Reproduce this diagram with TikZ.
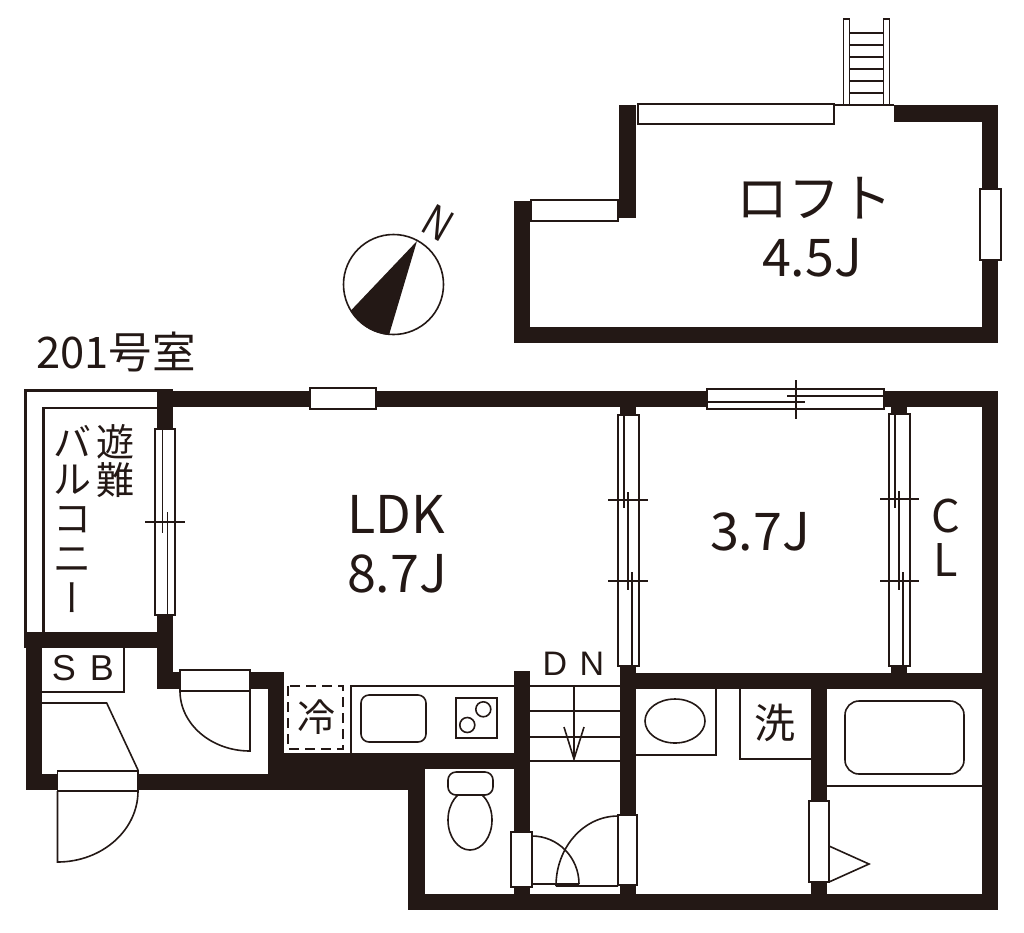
\documentclass[tikz,border=0pt]{standalone}
\usepackage{fontspec}
\setmainfont{Noto Sans CJK JP}
\newfontfamily\vertfont[RawFeature=+vert]{Noto Sans CJK JP}
\newfontfamily\latinfont{Liberation Sans}
\definecolor{wallcol}{HTML}{231815}
\tikzset{
  wall/.style={fill=wallcol},
  thin line/.style={draw=wallcol, line width=1.3pt},
  fitting/.style={draw=wallcol, line width=1.6pt},
  opening/.style={draw=wallcol, line width=1.6pt, fill=white},
  label/.style={inner sep=0pt, text=wallcol, font=\fontsize{52}{52}\selectfont},
  small label/.style={label, font=\fontsize{38}{38}\selectfont},
}
\begin{document}
\begin{tikzpicture}[x=1pt, y=-1pt, >=latex]
  \useasboundingbox (0,0) rectangle (1024,932);
  % loft walls
  \fill[wall] (514,201) rectangle (530,343);
  \fill[wall] (514,327) rectangle (998,343);
  \fill[wall] (982,105) rectangle (998,343);
  \fill[wall] (894,105) rectangle (998,122);
  \fill[wall] (619,105) rectangle (636,218);
  \draw[thin line] (834,105) -- (894,105);
  % loft windows
  \draw[opening] (638,104) rectangle (834,124);
  \draw[opening] (531,200) rectangle (618,221);
  \draw[opening] (980,189) rectangle (1001,260);
  % ladder
  \draw[opening] (843.5,19) rectangle (849.5,105);
  \draw[opening] (883.5,19) rectangle (889.5,105);
  \foreach \y in {33,45,57,69,81,93}
    \draw[thin line] (849.5,\y) -- (883.5,\y);
  \node[label] (loft) at (814,198) {ロフト};
  \node[label] (loftarea) at (812,258) {4.5J};
  % compass
  \draw[fitting] (393.5,284.5) circle (50);
  \fill[wall] (417,241) -- (389,335) arc (95:149:50) -- cycle;
  \node[inner sep=0pt, rotate=-30, text=wallcol, font=\latinfont\fontsize{46}{46}\selectfont, xscale=0.75] (north) at (438.5,223) {N};
  \node[small label, anchor=west, font=\fontsize{43.5}{44}\selectfont] (room) at (36,352) {201号室};
  % main walls
  \fill[wall] (157,391) rectangle (998,407);
  \fill[wall] (157,389) rectangle (173,429);
  \fill[wall] (157,615) rectangle (173,689);
  \fill[wall] (24,632) rectangle (173,648);
  \fill[wall] (26,632) rectangle (42,790);
  \fill[wall] (26,774) rectangle (284,790);
  \fill[wall] (157,672) rectangle (283,689);
  \fill[wall] (268,672) rectangle (284,790);
  \fill[wall] (268,753) rectangle (530,769);
  \fill[wall] (268,769) rectangle (408,790);
  \fill[wall] (408,753) rectangle (425,910);
  \fill[wall] (408,894) rectangle (998,910);
  \fill[wall] (514,671) rectangle (530,910);
  \fill[wall] (620,660) rectangle (636,910);
  \fill[wall] (620,673) rectangle (998,689);
  \fill[wall] (620,407) rectangle (636,420);
  \fill[wall] (891,407) rectangle (907,420);
  \fill[wall] (891,660) rectangle (907,680);
  \fill[wall] (811,689) rectangle (827,910);
  \fill[wall] (982,391) rectangle (998,910);
  % balcony
  \draw[wallcol, line width=2.5pt] (25.5,632) -- (25.5,390.5) -- (157,390.5);
  \draw[wallcol, line width=2.2pt] (43.5,632) -- (43.5,408) -- (157,408);
  \node[small label] (bal1) at (72,441) {バ};
  \node[small label] (bal2) at (72,480) {ル};
  \node[small label] (bal3) at (72,520) {コ};
  \node[small label] (bal4) at (72,560) {ニ};
  \node[small label, font=\vertfont\fontsize{38}{38}\selectfont] (bal5) at (72,598) {ー};
  \node[small label] (esc1) at (115,442) {遊};
  \node[small label] (esc2) at (115,480) {難};
  % balcony window
  \draw[opening] (155,429) rectangle (175,615);
  \draw[thin line] (162.3,429) -- (162.3,533);
  \draw[thin line] (167.7,512) -- (167.7,615);
  \draw[thin line] (145,522) -- (185,522);
  % top windows
  \draw[opening] (310,388) rectangle (376,409);
  \draw[opening] (707,389) rectangle (884,409);
  \draw[thin line] (787,396) -- (884,396);
  \draw[thin line] (707,402) -- (805,402);
  \draw[thin line] (796,380) -- (796,419);
  % room sliding doors
  \draw[opening] (618,415) rectangle (639,666);
  \draw[thin line] (624,415) -- (624,508);
  \draw[thin line] (628,492) -- (628,590);
  \draw[thin line] (632,572) -- (632,666);
  \draw[thin line] (608,500) -- (648,500);
  \draw[thin line] (608,581) -- (648,581);
  \draw[opening] (889,414) rectangle (910,666);
  \draw[thin line] (895,414) -- (895,508);
  \draw[thin line] (899,491) -- (899,590);
  \draw[thin line] (903,572) -- (903,666);
  \draw[thin line] (880,499) -- (919,499);
  \draw[thin line] (880,581) -- (919,581);
  % room labels
  \node[label] (ldk) at (396,514) {LDK};
  \node[label] (ldkarea) at (397,574) {8.7J};
  \node[label] (room2) at (760,532) {3.7J};
  \node[small label, font=\fontsize{45}{45}\selectfont] (cl1) at (946,516) {C};
  \node[small label, font=\fontsize{45}{45}\selectfont] (cl2) at (946,560) {L};
  % entrance
  \draw[fitting] (42,692) -- (124,692) -- (124,648);
  \node[small label, font=\latinfont\fontsize{36}{36}\selectfont] (sbs) at (64,668) {S};
  \node[small label, font=\latinfont\fontsize{36}{36}\selectfont] (sbb) at (102,668) {B};
  \draw[fitting] (42,703) -- (106.7,703) -- (138,770);
  \draw[opening] (57.5,771) rectangle (138,791);
  \draw[fitting] (138,791) arc (0:90:80.5 and 71) -- (57.5,791);
  \draw[opening] (180,670) rectangle (250,691);
  \draw[fitting] (180,691) arc (180:90:70 and 60) -- (250,691);
  % kitchen
  \draw[fitting] (351,753) -- (351,686) -- (514,686);
  \draw[fitting, rounded corners=8pt] (361,695) rectangle (426,742);
  \draw[fitting] (456,698) rectangle (497,738);
  \draw[fitting] (483.3,709.3) circle (7.5);
  \draw[fitting] (467.3,725) circle (7.5);
  \draw[fitting, dashed, dash pattern=on 10pt off 6pt] (288,686) rectangle (343,749);
  \node[small label] (fridge) at (316,717) {冷};
  % stairs
  \foreach \y in {686,711,737,761}
    \draw[thin line] (530,\y) -- (620,\y);
  \draw[fitting] (574,686) -- (574,759);
  \draw[fitting] (564,727) -- (574,759) -- (584,727);
  \node[small label, font=\latinfont\fontsize{34}{34}\selectfont] (dnd) at (555,664) {D};
  \node[small label, font=\latinfont\fontsize{34}{34}\selectfont] (dnn) at (592,664) {N};
  % toilet
  \draw[fitting] (470,820) ellipse (22 and 30);
  \draw[opening, rounded corners=8pt] (448,772) rectangle (493,795);
  \draw[fitting] (579,884) arc (0:-90:47 and 48) (579,884) -- (532,884);
  \draw[fitting] (556,886) arc (180:270:62 and 70) (556,886) -- (618,886);
  \draw[opening] (511,832) rectangle (532,887);
  \draw[opening] (618,815) rectangle (637,885);
  % washroom
  \draw[fitting] (636,755) -- (716,755) -- (716,689);
  \draw[fitting] (675,721) ellipse (30 and 22);
  \draw[fitting] (740,689) -- (740,759) -- (811,759);
  \node[small label, font=\fontsize{41}{41}\selectfont] (washer) at (775,723) {洗};
  % bath
  \draw[fitting, rounded corners=14pt] (845,701) rectangle (964,774);
  \draw[thin line] (827,786) -- (982,786);
  \draw[opening] (809,801) rectangle (829,882);
  \draw[fitting] (829,846) -- (869,864) -- (829,882);
\end{tikzpicture}
\end{document}
